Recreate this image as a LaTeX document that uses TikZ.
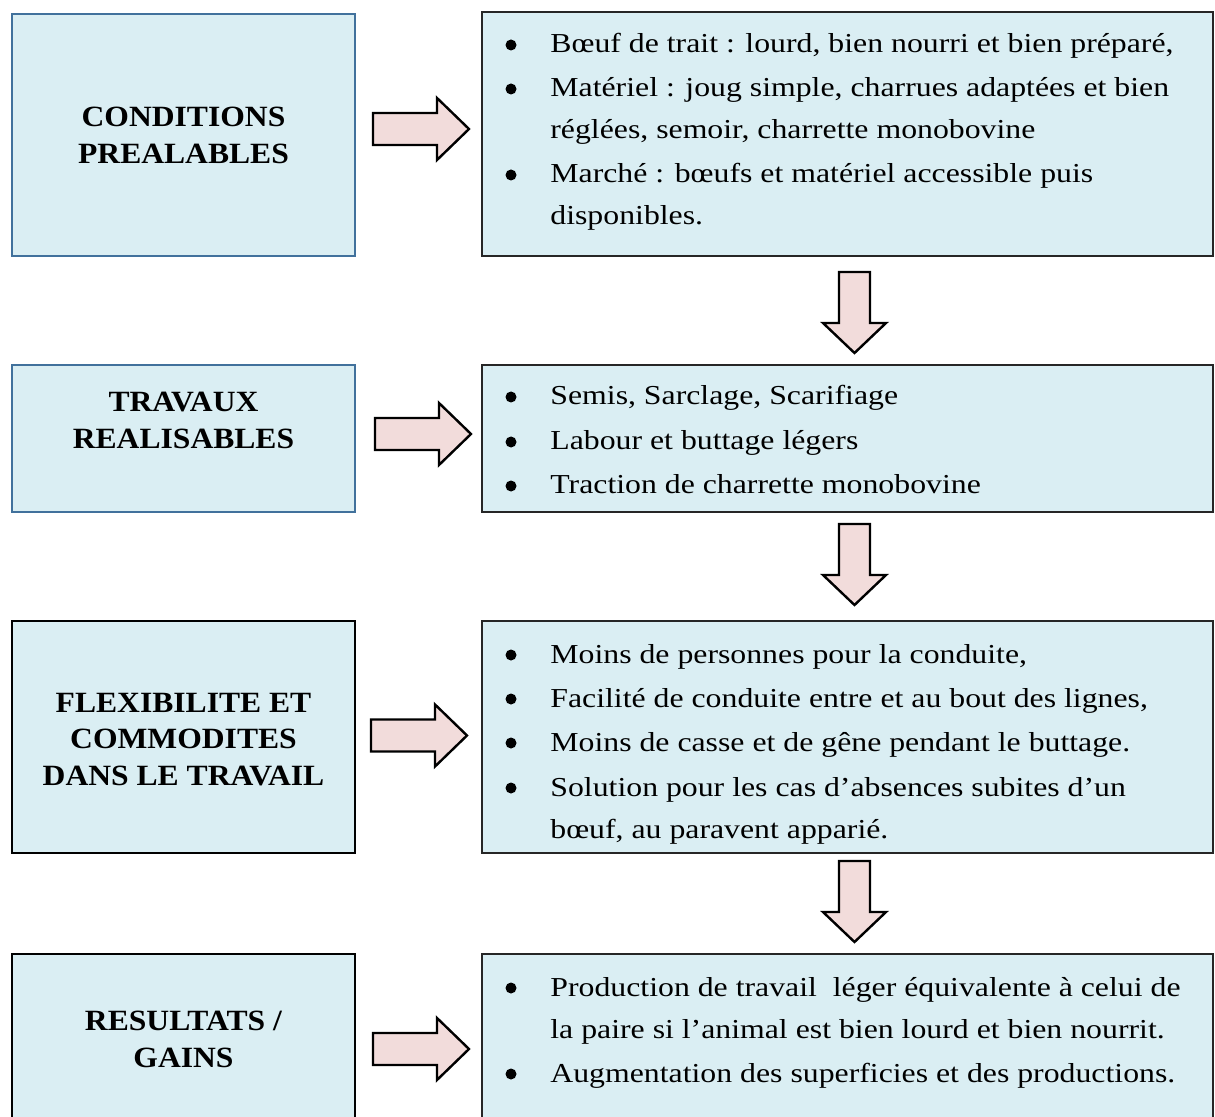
\documentclass[tikz,border=0pt]{standalone}
\usepackage{fontspec}
\setmainfont{Liberation Serif}
\newfontfamily\bodyfont[FakeStretch=1.16]{Liberation Serif}
\newfontfamily\titlefont[FakeStretch=1.075]{Liberation Serif}
\usetikzlibrary{fit}
\definecolor{boxfill}{HTML}{DAEEF3}
\definecolor{arrfill}{HTML}{F2DCDB}
\definecolor{blueline}{HTML}{41719C}
\definecolor{darkline}{HTML}{262626}
\begin{document}
\begin{tikzpicture}[x=0.5pt,y=-0.5pt,
  box/.style={draw=darkline,line width=1pt,fill=boxfill,inner sep=0pt,rectangle},
  bluebox/.style={box,draw=blueline},
  ttl/.style={anchor=base,inner sep=0pt,font=\titlefont\fontsize{14.7}{17}\selectfont\bfseries},
  txt/.style={anchor=base west,inner sep=0pt,font=\bodyfont\fontsize{13.7}{16}\selectfont},
  blt/.style={circle,fill=black,inner sep=0pt,minimum size=5.5pt},
  blockarrow/.style={draw=black,line width=1.2pt,fill=arrfill,line join=miter},
  rarr/.pic={\path[blockarrow] (0,-16)--(64,-16)--(64,-31)--(96,0)--(64,31)--(64,16)--(0,16)--cycle;},
  darr/.pic={\path[blockarrow] (-15.5,0)--(15.5,0)--(15.5,51)--(31.5,51)--(0,81)--(-31.5,51)--(-15.5,51)--(-15.5,0)--cycle;}
]
\useasboundingbox (0,0) rectangle (1215,1117);
\fill[white] (0,0) rectangle (1215,1117);

% ---------- row 1 ----------
\node[bluebox,fit={(12,14)(355,256)}] (L1) {};
\node[box,fit={(482,12)(1213,256)}] (R1) {};
\node[ttl] (L1a) at (183.5,127) {CONDITIONS};
\node[ttl] (L1b) at (183.5,164) {PREALABLES};
\node[blt] (R1b1) at (511,45) {};
\node[txt] (R1t1) at (550,53) {Bœuf de trait : lourd, bien nourri et bien préparé,};
\node[blt] (R1b2) at (511,89) {};
\node[txt] (R1t2) at (550,97) {Matériel : joug simple, charrues adaptées et bien};
\node[txt] (R1t3) at (550,139) {réglées, semoir, charrette monobovine};
\node[blt] (R1b4) at (511,175) {};
\node[txt] (R1t4) at (550,183) {Marché : bœufs et matériel accessible puis};
\node[txt] (R1t5) at (550,225) {disponibles.};
\pic at (373,129) {rarr};
\pic at (854.5,272) {darr};

% ---------- row 2 ----------
\node[bluebox,fit={(12,365)(355,512)}] (L2) {};
\node[box,fit={(482,365)(1213,512)}] (R2) {};
\node[ttl] (L2a) at (183.5,412) {TRAVAUX};
\node[ttl] (L2b) at (183.5,448) {REALISABLES};
\node[blt] (R2b1) at (511,397) {};
\node[txt] (R2t1) at (550,405) {Semis, Sarclage, Scarifiage};
\node[blt] (R2b2) at (511,442) {};
\node[txt] (R2t2) at (550,450) {Labour et buttage légers};
\node[blt] (R2b3) at (511,486) {};
\node[txt] (R2t3) at (550,494) {Traction de charrette monobovine};
\pic at (375,434) {rarr};
\pic at (854.5,524) {darr};

% ---------- row 3 ----------
\node[box,draw=black,fit={(12,621)(355,853)}] (L3) {};
\node[box,fit={(482,621)(1213,853)}] (R3) {};
\node[ttl] (L3a) at (183.5,712) {FLEXIBILITE ET};
\node[ttl] (L3b) at (183.5,748) {COMMODITES};
\node[ttl] (L3c) at (183.5,785) {DANS LE TRAVAIL};
\begin{scope}
\clip (482,621) rectangle (1213,846);
\node[blt] (R3b1) at (511,655) {};
\node[txt] (R3t1) at (550,663) {Moins de personnes pour la conduite,};
\node[blt] (R3b2) at (511,699) {};
\node[txt] (R3t2) at (550,707) {Facilité de conduite entre et au bout des lignes,};
\node[blt] (R3b3) at (511,743) {};
\node[txt] (R3t3) at (550,751) {Moins de casse et de gêne pendant le buttage.};
\node[blt] (R3b4) at (511,788) {};
\node[txt] (R3t4) at (550,796) {Solution pour les cas d’absences subites d’un};
\node[txt] (R3t5) at (550,838) {bœuf, au paravent apparié.};
\end{scope}
\pic at (371,735.5) {rarr};
\pic at (854.5,861) {darr};

% ---------- row 4 ----------
\node[box,draw=black,fit={(12,954)(355,1130)}] (L4) {};
\node[box,fit={(482,954)(1213,1130)}] (R4) {};
\node[ttl] (L4a) at (183.5,1030) {RESULTATS /};
\node[ttl] (L4b) at (183.5,1067) {GAINS};
\node[blt] (R4b1) at (511,988) {};
\node[txt] (R4t1) at (550,996) {Production de travail\ \ léger équivalente à celui de};
\node[txt] (R4t2) at (550,1038) {la paire si l’animal est bien lourd et bien nourrit.};
\node[blt] (R4b3) at (511,1074) {};
\node[txt] (R4t3) at (550,1082) {Augmentation des superficies et des productions.};
\pic at (373,1049) {rarr};
\end{tikzpicture}
\end{document}
